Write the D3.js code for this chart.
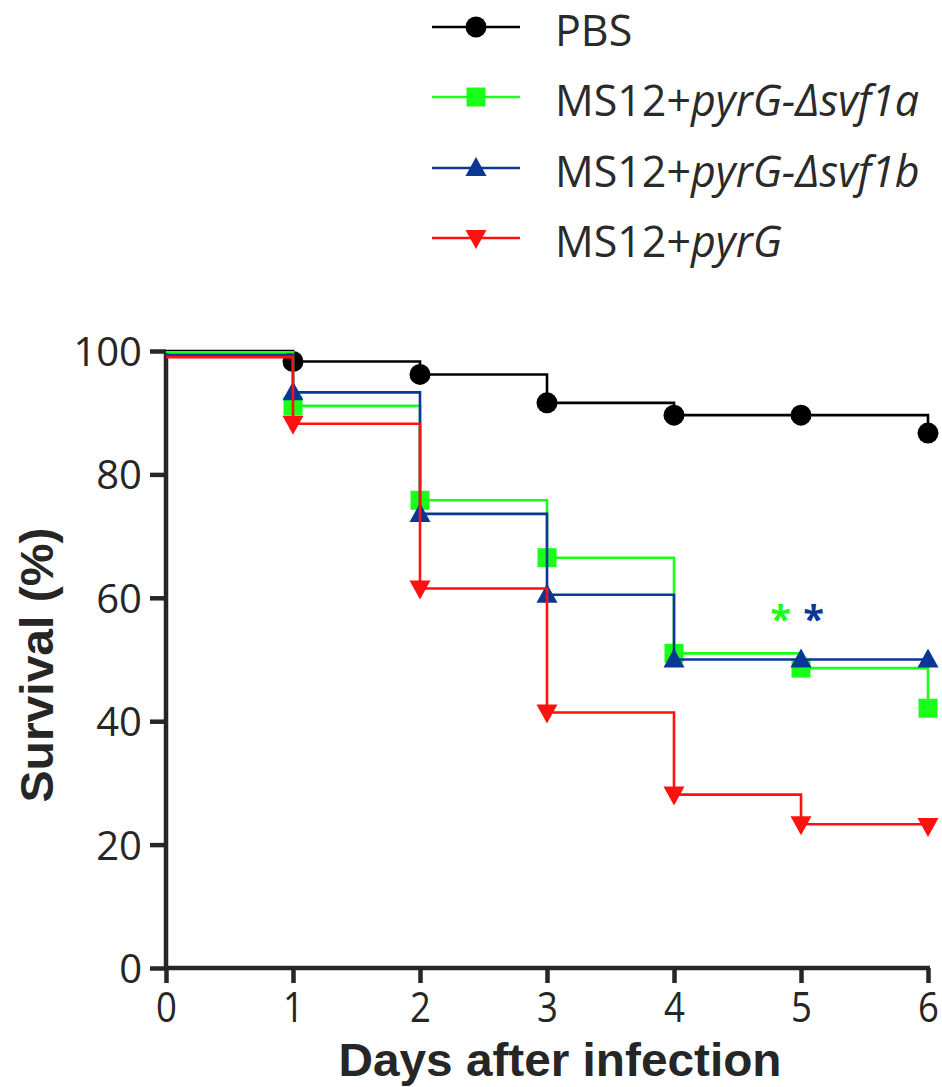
<!doctype html>
<html lang="en">
<head>
<meta charset="utf-8">
<title>Survival</title>
<script src="https://d3js.org/d3.v7.min.js"></script>
<style>
  body { margin: 0; background: #fff; }
  svg { display: block; }
</style>
</head>
<body>
<svg id="chart" width="942" height="1087"></svg>
<script>
// data
var days = [0, 1, 2, 3, 4, 5, 6];
var pbs    = [100.0, 98.3, 96.2, 91.6, 89.6, 89.6, 86.7];
var svf1a  = [99.8, 91.1, 75.8, 66.5, 51.0, 48.6, 42.1];
var svf1b  = [99.4, 93.3, 73.6, 60.5, 50.0, 50.0, 50.0];
var pyrG   = [99.0, 88.2, 61.5, 41.4, 28.1, 23.3, 23.0];

var seriesNames  = ["PBS", "svf1a", "svf1b", "pyrG"];
var seriesColors = ["#000000", "#19ff19", "#0a3796", "#ff1111"];
var seriesShapes = ["circle", "square", "triangle", "triangleDown"];

var yTicks = [0, 20, 40, 60, 80, 100];
var xTicks = [0, 1, 2, 3, 4, 5, 6];

// significance stars: [day, survival, colour index]
var starDays = [4.84, 5.1];
var starVals = [57.6, 57.6];
var starColorIdx = [1, 2];

var values = [pbs, svf1a, svf1b, pyrG];

var svg = d3.select("#chart");
var axisColor = "#262626";
var x = d3.scaleLinear().domain([0, 6]).range([166, 928]);
var y = d3.scaleLinear().domain([0, 100]).range([968, 351]);

// axes
var gy = svg.append("g").attr("transform", "translate(166,0)")
  .call(d3.axisLeft(y).tickValues(yTicks).tickSize(16).tickPadding(8));
gy.select(".domain").attr("d", "M0," + y(100) + "V" + (y(0) + 2));
var gx = svg.append("g").attr("transform", "translate(0,968)")
  .call(d3.axisBottom(x).tickValues(xTicks).tickFormat(d3.format("d")).tickSize(15).tickPadding(8));
gx.select(".domain").attr("d", "M" + (x(0) - 2) + ",0H" + (x(6) + 2));

[gx, gy].forEach(function(g) {
  g.selectAll(".domain").attr("stroke", axisColor).attr("stroke-width", 4.5).attr("fill", "none");
  g.selectAll(".tick line").attr("stroke", axisColor).attr("stroke-width", 4.5);
  g.selectAll(".tick text").attr("fill", axisColor).style("font-family", "'Open Sans', sans-serif");
});
gy.selectAll(".tick text").style("font-size", "40px").attr("dy", "0.36em");
gx.selectAll(".tick text").style("font-size", "42px").attr("dy", "0.74em")
  .attr("transform", "scale(0.87,1)");

svg.append("text")
  .attr("transform", "translate(53," + 665 + ") rotate(-90)")
  .attr("text-anchor", "middle")
  .attr("textLength", 275).attr("lengthAdjust", "spacingAndGlyphs")
  .style("font-family", "'Liberation Sans', Arial, sans-serif")
  .style("font-weight", "bold").style("font-size", "46px")
  .attr("fill", axisColor)
  .text("Survival (%)");

svg.append("text")
  .attr("x", 560).attr("y", 1076)
  .attr("text-anchor", "middle")
  .attr("textLength", 443).attr("lengthAdjust", "spacingAndGlyphs")
  .style("font-family", "'Liberation Sans', Arial, sans-serif")
  .style("font-weight", "bold").style("font-size", "46px")
  .attr("fill", axisColor)
  .text("Days after infection");

// marker paths
function markerPath(shape) {
  if (shape == "circle") return d3.symbol().type(d3.symbolCircle).size(Math.PI * 10.5 * 10.5)();
  if (shape == "square") return "M-9.5,-9.5H9.5V9.5H-9.5Z";
  if (shape == "triangle") return "M0,-11L10.5,8L-10.5,8Z";
  return "M0,11L10.5,-8L-10.5,-8Z";
}

var stepLine = d3.line()
  .x(function(d, i) { return x(days[i]); })
  .y(function(d) { return y(d); })
  .curve(d3.curveStepAfter);

var plot = svg.append("g");
values.forEach(function(vals, s) {
  var g = plot.append("g");
  g.append("path")
    .attr("d", stepLine(vals))
    .attr("fill", "none")
    .attr("stroke", seriesColors[s])
    .attr("stroke-width", 2.6);
  g.selectAll("path.m")
    .data(vals.slice(1))
    .enter().append("path")
    .attr("class", "m")
    .attr("d", markerPath(seriesShapes[s]))
    .attr("transform", function(d, i) { return "translate(" + x(days[i + 1]) + "," + y(d) + ")"; })
    .attr("fill", seriesColors[s]);
});

// stars
svg.selectAll("text.star")
  .data(starDays)
  .enter().append("text")
  .attr("class", "star")
  .attr("x", function(d) { return x(d); })
  .attr("y", function(d, i) { return y(starVals[i]) + 20; })
  .attr("text-anchor", "middle")
  .style("font-family", "'Open Sans', sans-serif")
  .style("font-weight", "bold").style("font-size", "38px")
  .attr("fill", function(d, i) { return seriesColors[starColorIdx[i]]; })
  .text("*");

// legend
var legendY = [27, 97, 168, 238];
var legendLabels = [
  [["PBS", false]],
  [["MS12+", false], ["pyrG-\u0394svf1a", true]],
  [["MS12+", false], ["pyrG-\u0394svf1b", true]],
  [["MS12+", false], ["pyrG", true]]
];
var legend = svg.append("g");
seriesNames.forEach(function(n, s) {
  var row = legend.append("g").attr("transform", "translate(0," + legendY[s] + ")");
  row.append("line").attr("x1", 432).attr("x2", 520).attr("y1", 0).attr("y2", 0)
    .attr("stroke", seriesColors[s]).attr("stroke-width", 2.6);
  row.append("path").attr("d", markerPath(seriesShapes[s]))
    .attr("transform", "translate(476,0)").attr("fill", seriesColors[s]);
  var t = row.append("text").attr("x", 555).attr("y", 19)
    .style("font-family", "'Open Sans', sans-serif").style("font-size", "43px")
    .attr("fill", "#2a2a2a");
  legendLabels[s].forEach(function(p) {
    t.append("tspan").style("font-style", p[1] ? "italic" : "normal").text(p[0]);
  });
});
</script>
</body>
</html>
